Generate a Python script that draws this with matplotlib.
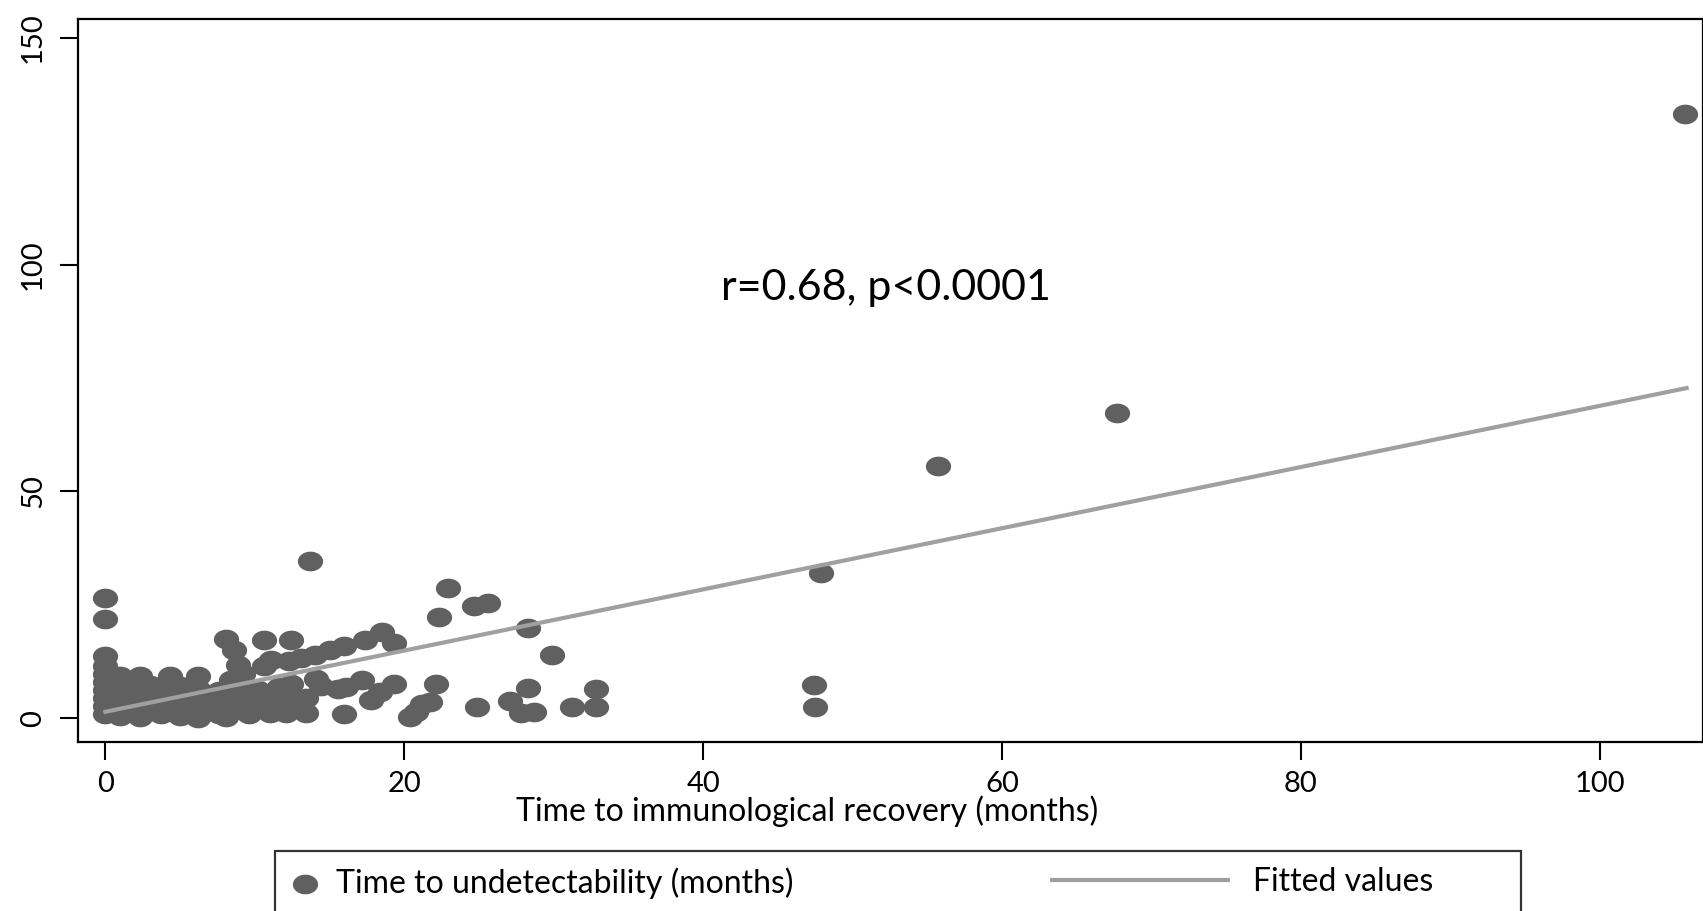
import numpy as np
import matplotlib.pyplot as plt
from matplotlib.path import Path

plt.rcParams['font.family'] = ['Lato', 'DejaVu Sans']

# Data (months)
recovery = [0, 0, 0, 0, 0, 0, 0, 0, 0, 0,
            0.5, 0.5, 0.5,
            1.0, 1.0, 1.0, 1.0,
            1.6, 1.6, 1.6,
            2.3, 2.3, 2.3, 2.3,
            3.0, 3.0, 3.0,
            3.7, 3.7, 3.7,
            4.3, 4.3, 4.3,
            5.0, 5.0, 5.0,
            5.7, 5.7,
            6.2, 6.2, 6.2, 6.2,
            6.9, 6.9,
            7.6, 7.6, 7.6,
            8.1, 8.1, 8.4, 8.4, 8.6, 8.9, 8.9, 9.2, 9.2,
            9.6, 9.6, 10.2, 10.2, 10.6, 10.6, 11.0, 11.0, 11.1,
            11.6, 11.6, 12.1, 12.1, 12.3, 12.4, 12.4, 12.8,
            13.1, 13.4, 13.4, 13.7, 14.0, 14.1, 14.4, 15.0, 15.6,
            16.0, 16.0, 16.1, 17.2, 17.4, 17.8, 18.4, 18.5, 19.3, 19.3,
            20.4, 20.8, 21.2, 21.7, 22.1, 22.3, 22.9, 24.7, 25.6, 24.9,
            27.1, 28.3, 28.3, 27.8, 28.7, 29.9, 31.2, 32.8, 32.8,
            47.4, 47.5, 47.9, 55.7, 67.7, 105.7]
undetect = [0.8, 2.6, 4.4, 6.2, 8.0, 9.8, 11.6, 13.7, 21.8, 26.4,
            1.5, 5.0, 8.5,
            0.5, 3.2, 6.5, 9.3,
            1.8, 4.8, 7.6,
            0.3, 3.0, 6.0, 9.3,
            1.5, 4.5, 7.3,
            0.8, 3.5, 6.0,
            2.0, 9.3, 5.0,
            0.5, 3.5, 7.0,
            1.8, 5.0,
            0.0, 9.3, 3.2, 6.5,
            1.5, 4.5,
            2.8, 6.0, 0.8,
            0.2, 17.5, 8.4, 4.0, 15.1, 11.7, 2.0, 9.8, 5.5,
            1.0, 3.5, 2.5, 6.2, 17.3, 11.5, 1.2, 4.5, 12.9,
            3.0, 6.8, 1.2, 5.0, 12.5, 17.3, 7.6, 2.5,
            13.2, 1.2, 4.5, 34.7, 13.9, 8.7, 7.0, 15.1, 6.5,
            1.0, 15.8, 6.9, 8.4, 17.3, 3.9, 5.8, 19.0, 16.5, 7.6,
            0.3, 1.4, 3.2, 3.6, 7.5, 22.2, 28.7, 24.7, 25.4, 2.4,
            3.8, 6.7, 19.9, 1.2, 1.4, 13.9, 2.4, 6.5, 2.4,
            7.2, 2.4, 32.1, 55.6, 67.3, 133.2]

# fitted line end points
fit_x = [0, 105.8]
fit_y = [1.4, 72.8]

x_ticks = [0, 20, 40, 60, 80, 100]
y_ticks = [0, 50, 100, 150]

# slightly flattened circle marker
t = np.linspace(0, 2 * np.pi, 60)
ellipse = Path(np.column_stack([np.cos(t), 0.78 * np.sin(t)]), closed=True)

fig = plt.figure(figsize=(17.03, 9.11), dpi=100)
ax = fig.add_axes([0.0458, 0.1855, 0.9542, 0.7931])

ax.scatter(recovery, undetect, s=330, marker=ellipse, color='#606060',
           linewidths=0, zorder=2, label='Time to undetectability (months)')
ln, = ax.plot(fit_x, fit_y, color='#a0a0a0', lw=3, zorder=3,
              label='Fitted values')

ax.set_xlim(-1.83, 106.9)
ax.set_ylim(-5.27, 154.1)
ax.set_xticks(x_ticks)
ax.set_yticks(y_ticks)
ax.tick_params(axis='both', length=13, width=1.5, labelsize=21, pad=8)
ax.tick_params(axis='y', labelrotation=90, pad=10)
for lab in ax.get_yticklabels():
    lab.set_va('center')
for sp in ax.spines.values():
    sp.set_linewidth(1.6)

ax.set_xlabel('Time to immunological recovery (months)', fontsize=23)
ax.xaxis.label.set_va('center')
ax.xaxis.set_label_coords(0.449, -0.096)
ax.text(52.2, 94.8, 'r=0.68, p<0.0001', fontsize=31, ha='center', va='center')

sc = ax.collections[0]
leg1 = fig.legend(handles=[sc], loc='upper left',
                  bbox_to_anchor=(275 / 1703, 0, 1246 / 1703, 60 / 911),
                  mode='expand', borderaxespad=0, fancybox=False,
                  edgecolor='black', fontsize=23, handlelength=0.9,
                  handletextpad=0.5, scatterpoints=1, markerscale=1.0,
                  borderpad=0.5)
leg1.get_frame().set_linewidth(1.6)
fig.legend(handles=[ln], loc='center left',
           bbox_to_anchor=(1052 / 1703, 1 - 882 / 911), frameon=False,
           borderpad=0, borderaxespad=0, fontsize=23, handlelength=5.5,
           handletextpad=0.8)

fig.savefig('out.png', dpi=100)
